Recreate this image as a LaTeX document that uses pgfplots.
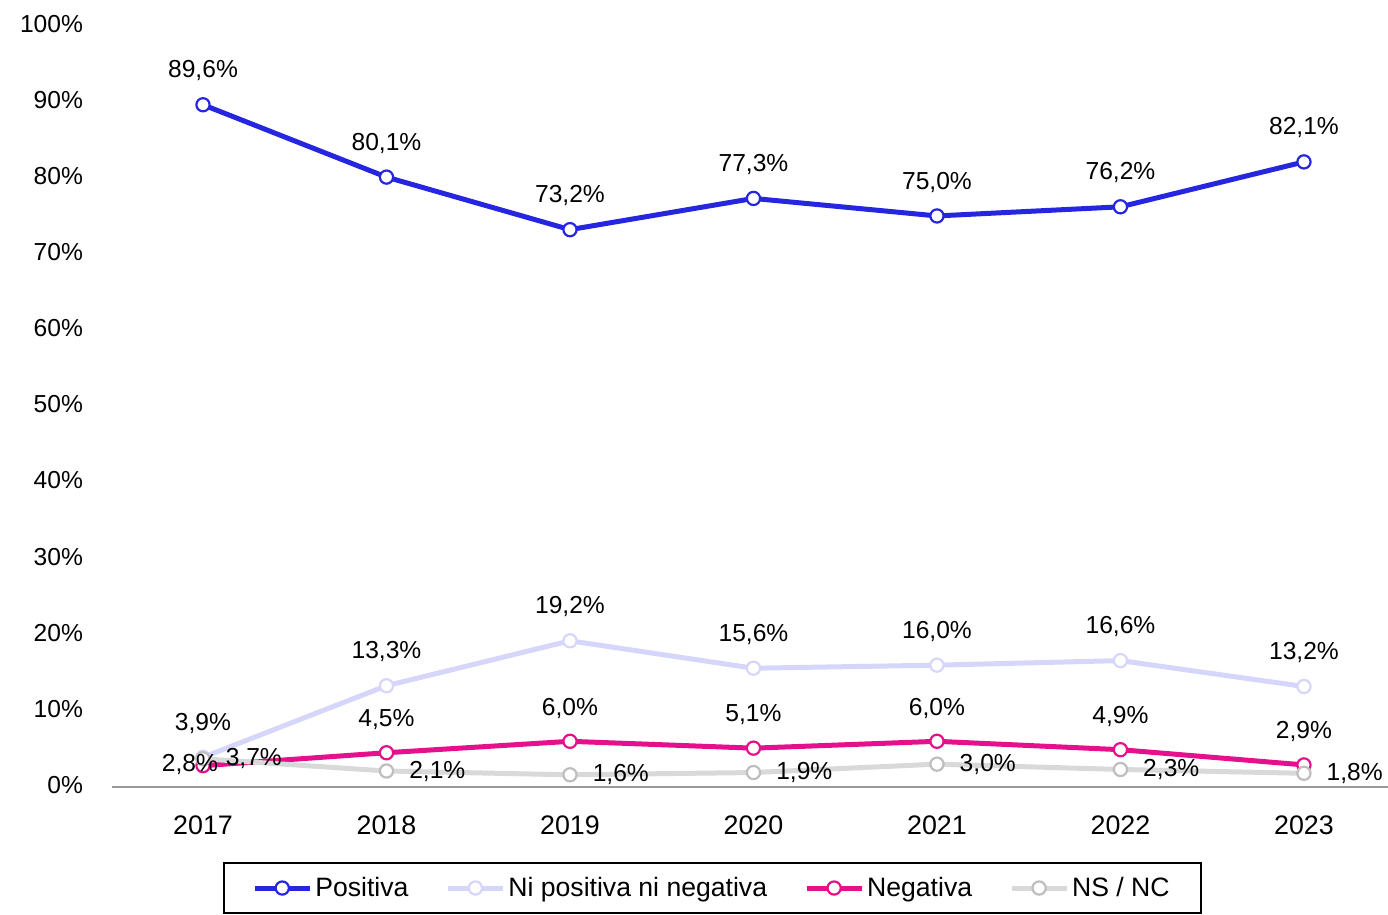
\documentclass[border=0pt]{standalone}
\usepackage{pgfplots}
\pgfplotsset{compat=1.18}
\usepackage{fontspec}
\setmainfont{Liberation Sans}
\definecolor{cpos}{RGB}{38,38,224}
\definecolor{cni}{RGB}{214,214,250}
\definecolor{cneg}{RGB}{230,16,140}
\definecolor{cns}{RGB}{217,217,217}
\definecolor{cnsmark}{RGB}{190,190,190}
\newcommand{\chartfont}{\fontsize{12.3}{14}\selectfont}
\newcommand{\legfont}{\fontsize{13.3}{15}\selectfont}
\newcommand{\xfont}{\fontsize{13.4}{15}\selectfont}
\pgfplotsset{
  pct/.style={nodes near coords={\pgfmathprintnumber[fixed,fixed zerofill,precision=1,use comma]{\pgfplotspointmeta}\%}},
  lblabove/.style={pct, every node near coord/.append style={text=black, font=\chartfont, anchor=south, yshift=8pt}},
  lblright/.style={pct, every node near coord/.append style={text=black, font=\chartfont, anchor=west, xshift=7.5pt}},
  ser/.style={color=#1, line width=2.5pt, mark=*, mark size=3.3pt,
    mark options={fill=white, draw=#1, line width=1.1pt}},
}
\begin{document}
\begin{tikzpicture}[font=\chartfont]
\begin{axis}[
  at={(0,0)}, anchor=south west,
  scale only axis, width=638pt, height=380.7pt,
  xmin=-0.496, xmax=6.458, ymin=0, ymax=100,
  clip=false,
  axis x line*=bottom, axis y line*=left,
  y axis line style={draw=none},
  x axis line style={draw=black!40, line width=0.7pt},
  major tick length=0pt,
  /pgf/number format/assume math mode=true,
  xtick={0,1,2,3,4,5,6},
  xticklabels={2017,2018,2019,2020,2021,2022,2023},
  xticklabel style={yshift=-11pt, font=\xfont},
  ytick={0,10,...,100},
  yticklabel={\pgfmathprintnumber{\tick}\%},
  yticklabel style={xshift=-11pt, yshift=1pt},
  legend columns=4,
  legend style={at={(0.4706,-0.0985)}, anchor=north, draw=black, line width=0.9pt,
    inner xsep=14pt, inner ysep=5pt, font=\legfont,
    nodes={inner xsep=1.5pt},
    /tikz/every even column/.append style={column sep=17pt}},
  legend image code/.code={\draw[mark repeat=2,mark phase=2] plot coordinates {(0pt,0pt) (13.75pt,0pt) (27.5pt,0pt)};},
]
\addplot[ser=cpos, lblabove] coordinates {(0,89.6) (1,80.1) (2,73.2) (3,77.3) (4,75.0) (5,76.2) (6,82.1)};
\addlegendentry{Positiva}
\addplot[ser=cni, lblabove] coordinates {(0,3.9) (1,13.3) (2,19.2) (3,15.6) (4,16.0) (5,16.6) (6,13.2)};
\addlegendentry{Ni positiva ni negativa}
\addplot[ser=cneg] coordinates {(0,2.8) (1,4.5) (2,6.0) (3,5.1) (4,6.0) (5,4.9) (6,2.9)};
\addlegendentry{Negativa}
\addplot[ser=cns, mark options={fill=white, draw=cnsmark, line width=1.1pt}, lblright]
  coordinates {(0,3.7) (1,2.1) (2,1.6) (3,1.9) (4,3.0) (5,2.3) (6,1.8)};
\addlegendentry{NS / NC}
% Negativa labels (2017 label sits on its point)
\addplot[draw=none, mark=none, forget plot, lblabove] coordinates {(1,4.5) (2,6.0) (3,5.1) (4,6.0) (5,4.9) (6,2.9)};
\addplot[draw=none, mark=none, forget plot, pct,
  every node near coord/.append style={text=black, font=\chartfont, anchor=center, xshift=-6.5pt, yshift=0.5pt}]
  coordinates {(0,2.8)};
\end{axis}
\pgfresetboundingbox
\path[use as bounding box] (-56pt,-64pt) rectangle (638pt,393.5pt);
\end{tikzpicture}
\end{document}
